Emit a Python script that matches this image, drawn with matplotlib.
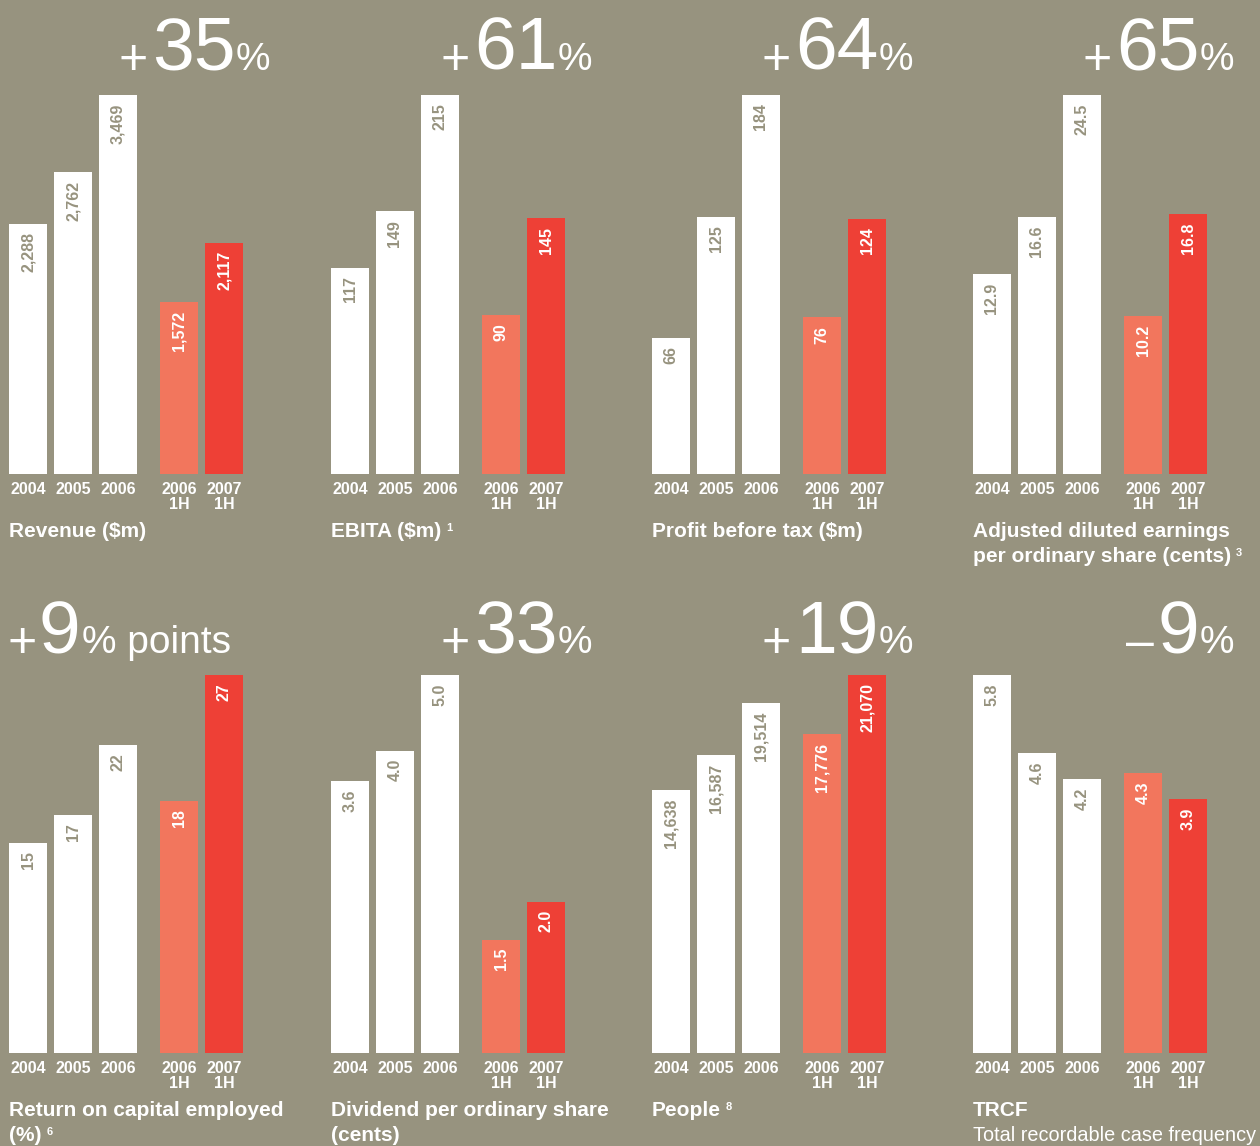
import matplotlib
matplotlib.use("Agg")
import matplotlib.pyplot as plt

BG = "#97937f"
WHITE = "#ffffff"
SALMON = "#f2765d"
RED = "#ee4036"
LABEL_GREY = "#97937f"

years = ["2004", "2005", "2006", "2006", "2007"]
halves = ["", "", "", "1H", "1H"]
bar_colors = [WHITE, WHITE, WHITE, SALMON, RED]

revenue = [2288, 2762, 3469, 1572, 2117]
ebita = [117, 149, 215, 90, 145]
profit = [66, 125, 184, 76, 124]
eps = [12.9, 16.6, 24.5, 10.2, 16.8]
roce = [15, 17, 22, 18, 27]
dividend = [3.6, 4.0, 5.0, 1.5, 2.0]
people = [14638, 16587, 19514, 17776, 21070]
trcf = [5.8, 4.6, 4.2, 4.3, 3.9]

panels = [
    # values, label format, header (sign, number, suffix), title lines, footnote
    (revenue, "{:,.0f}", ("+", "35", "%"), ["Revenue ($m)"], ""),
    (ebita, "{:.0f}", ("+", "61", "%"), ["EBITA ($m)"], "1"),
    (profit, "{:.0f}", ("+", "64", "%"), ["Profit before tax ($m)"], ""),
    (eps, "{:.1f}", ("+", "65", "%"),
     ["Adjusted diluted earnings", "per ordinary share (cents)"], "3"),
    (roce, "{:.0f}", ("+", "9", "% points"),
     ["Return on capital employed", "(%)"], "6"),
    (dividend, "{:.1f}", ("+", "33", "%"),
     ["Dividend per ordinary share", "(cents)"], ""),
    (people, "{:,.0f}", ("+", "19", "%"), ["People"], "8"),
    (trcf, "{:.1f}", ("\u2013", "9", "%"), ["TRCF"], ""),
]
subtitle_trcf = "Total recordable case frequency"

W, H = 1260, 1146
FONT = "Liberation Sans"
slots = [0, 1, 2, 3.356, 4.356]
UNIT = 45.0          # px per slot
FIRST = 28.0         # px from panel edge to first bar centre
offsets = [0, 322, 643, 964]
rows = [dict(base=474, top=95, head=70),
        dict(base=1053, top=675, head=653)]

fig = plt.figure(figsize=(W / 100, H / 100), dpi=100)
fig.patch.set_facecolor(BG)
over = fig.add_axes([0, 0, 1, 1])
over.set_xlim(0, W)
over.set_ylim(H, 0)
over.axis("off")
renderer = fig.canvas.get_renderer()


def width_of(t):
    return t.get_window_extent(renderer).width


def header(parts, x, y, right=True):
    sizes = [36, 54, 28]
    drops = [4, 0, 0]   # sign sits a little lower
    gaps = [3, 4, 0]
    items = list(zip(parts, sizes, drops, gaps))
    if right:
        for txt, fs, d, g in reversed(items):
            t = over.text(x, y + d, txt, fontsize=fs, color=WHITE, family=FONT,
                          ha="right", va="baseline")
            x -= width_of(t) + g
    else:
        for txt, fs, d, g in items:
            t = over.text(x, y + d, txt, fontsize=fs, color=WHITE, family=FONT,
                          ha="left", va="baseline")
            x += width_of(t) + g - 2


for i, (vals, fmt, head, titles, note) in enumerate(panels):
    row = rows[i // 4]
    off = offsets[i % 4]
    h = row["base"] - row["top"]
    ax = fig.add_axes([off / W, (H - row["base"]) / H, 322 / W, h / H])
    ax.set_xlim(-FIRST / UNIT, (322 - FIRST) / UNIT)
    ax.set_ylim(0, max(vals))
    ax.axis("off")
    ax.bar(slots, vals, width=38 / UNIT, color=bar_colors, linewidth=0)
    for s, v, c in zip(slots, vals, bar_colors):
        ax.annotate(fmt.format(v), (s, v), xytext=(0, -6),
                    textcoords="offset points", rotation=90,
                    ha="center", va="top", fontsize=11.5, fontweight="bold",
                    family=FONT, color=LABEL_GREY if c == WHITE else WHITE)

    # x labels
    for s, yr, hh in zip(slots, years, halves):
        cx = off + FIRST + s * UNIT
        over.text(cx, row["base"] + 20, yr, ha="center", va="baseline",
                  fontsize=11.5, fontweight="bold", family=FONT, color=WHITE)
        if hh:
            over.text(cx, row["base"] + 35, hh, ha="center", va="baseline",
                      fontsize=11.5, fontweight="bold", family=FONT,
                      color=WHITE)

    # title
    ty = row["base"] + 63
    last = None
    for k, line in enumerate(titles):
        last = over.text(off + 9, ty + 25 * k, line, ha="left", va="baseline",
                         fontsize=15, fontweight="bold", family=FONT,
                         color=WHITE)
    if note:
        bb = last.get_window_extent(renderer)
        over.text(bb.x1 + 5, ty + 25 * (len(titles) - 1) - 6, note,
                  ha="left", va="baseline", fontsize=8, fontweight="bold",
                  family=FONT, color=WHITE)
    if titles[0] == "TRCF":
        over.text(off + 9, ty + 25, subtitle_trcf, ha="left", va="baseline",
                  fontsize=14.3, family=FONT, color=WHITE)

    # big header
    if head[2] == "% points":
        header(head, off + 8, row["head"], right=False)
    else:
        header(head, off + 270, row["head"], right=True)

fig.savefig("out.png", dpi=100, facecolor=BG)
